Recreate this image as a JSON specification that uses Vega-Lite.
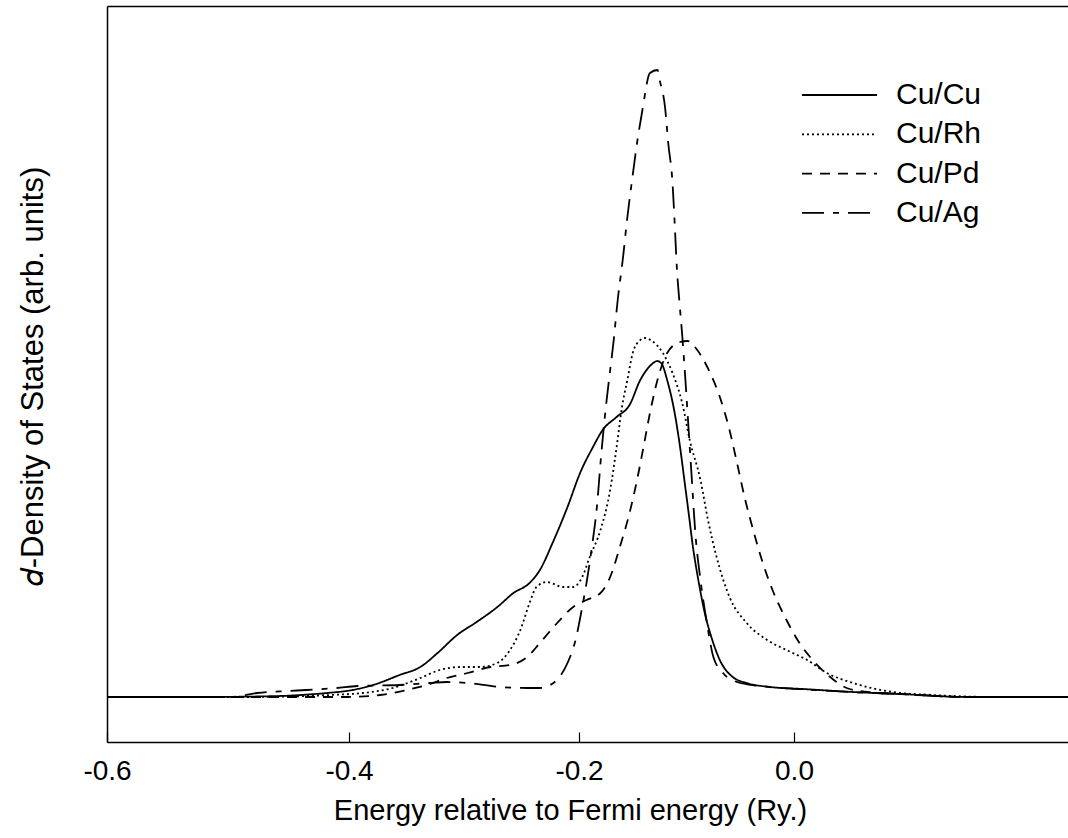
{
  "$schema": "https://vega.github.io/schema/vega-lite/v6.json",
  "width": 961,
  "height": 736,
  "autosize": {"type": "none"},
  "padding": {"left": 107, "top": 6, "right": 0, "bottom": 96},
  "background": "white",
  "config": {"view": {"stroke": null}, "font": "Liberation Sans"},
  "data": {"values": [
    {"s":"Cu/Cu","E":-0.6,"D":0},{"s":"Cu/Cu","E":-0.523,"D":0},{"s":"Cu/Cu","E":-0.457,"D":0.01},{"s":"Cu/Cu","E":-0.44,"D":0.02},{"s":"Cu/Cu","E":-0.418,"D":0.04},{"s":"Cu/Cu","E":-0.397,"D":0.07},{"s":"Cu/Cu","E":-0.379,"D":0.12},{"s":"Cu/Cu","E":-0.356,"D":0.22},{"s":"Cu/Cu","E":-0.338,"D":0.3},{"s":"Cu/Cu","E":-0.323,"D":0.44},{"s":"Cu/Cu","E":-0.306,"D":0.62},{"s":"Cu/Cu","E":-0.289,"D":0.75},{"s":"Cu/Cu","E":-0.271,"D":0.9},{"s":"Cu/Cu","E":-0.257,"D":1.04},{"s":"Cu/Cu","E":-0.243,"D":1.14},{"s":"Cu/Cu","E":-0.234,"D":1.27},{"s":"Cu/Cu","E":-0.223,"D":1.54},{"s":"Cu/Cu","E":-0.21,"D":1.9},{"s":"Cu/Cu","E":-0.199,"D":2.24},{"s":"Cu/Cu","E":-0.187,"D":2.5},{"s":"Cu/Cu","E":-0.178,"D":2.67},{"s":"Cu/Cu","E":-0.165,"D":2.8},{"s":"Cu/Cu","E":-0.153,"D":2.92},{"s":"Cu/Cu","E":-0.143,"D":3.17},{"s":"Cu/Cu","E":-0.134,"D":3.31},{"s":"Cu/Cu","E":-0.127,"D":3.36},{"s":"Cu/Cu","E":-0.123,"D":3.33},{"s":"Cu/Cu","E":-0.118,"D":3.17},{"s":"Cu/Cu","E":-0.111,"D":2.84},{"s":"Cu/Cu","E":-0.106,"D":2.5},{"s":"Cu/Cu","E":-0.102,"D":2.17},{"s":"Cu/Cu","E":-0.098,"D":1.84},{"s":"Cu/Cu","E":-0.094,"D":1.5},{"s":"Cu/Cu","E":-0.089,"D":1.17},{"s":"Cu/Cu","E":-0.083,"D":0.84},{"s":"Cu/Cu","E":-0.076,"D":0.57},{"s":"Cu/Cu","E":-0.069,"D":0.37},{"s":"Cu/Cu","E":-0.057,"D":0.2},{"s":"Cu/Cu","E":-0.044,"D":0.14},{"s":"Cu/Cu","E":-0.022,"D":0.1},{"s":"Cu/Cu","E":0.008,"D":0.08},{"s":"Cu/Cu","E":0.054,"D":0.05},{"s":"Cu/Cu","E":0.097,"D":0.03},{"s":"Cu/Cu","E":0.158,"D":0},{"s":"Cu/Cu","E":0.25,"D":0},
    {"s":"Cu/Rh","E":-0.6,"D":0},{"s":"Cu/Rh","E":-0.482,"D":0},{"s":"Cu/Rh","E":-0.416,"D":0.02},{"s":"Cu/Rh","E":-0.388,"D":0.04},{"s":"Cu/Rh","E":-0.362,"D":0.09},{"s":"Cu/Rh","E":-0.338,"D":0.19},{"s":"Cu/Rh","E":-0.321,"D":0.27},{"s":"Cu/Rh","E":-0.303,"D":0.3},{"s":"Cu/Rh","E":-0.286,"D":0.3},{"s":"Cu/Rh","E":-0.271,"D":0.34},{"s":"Cu/Rh","E":-0.26,"D":0.47},{"s":"Cu/Rh","E":-0.251,"D":0.67},{"s":"Cu/Rh","E":-0.243,"D":0.94},{"s":"Cu/Rh","E":-0.237,"D":1.1},{"s":"Cu/Rh","E":-0.228,"D":1.15},{"s":"Cu/Rh","E":-0.214,"D":1.1},{"s":"Cu/Rh","E":-0.205,"D":1.1},{"s":"Cu/Rh","E":-0.197,"D":1.2},{"s":"Cu/Rh","E":-0.19,"D":1.4},{"s":"Cu/Rh","E":-0.18,"D":1.67},{"s":"Cu/Rh","E":-0.171,"D":2.07},{"s":"Cu/Rh","E":-0.165,"D":2.5},{"s":"Cu/Rh","E":-0.16,"D":2.9},{"s":"Cu/Rh","E":-0.155,"D":3.17},{"s":"Cu/Rh","E":-0.15,"D":3.44},{"s":"Cu/Rh","E":-0.143,"D":3.57},{"s":"Cu/Rh","E":-0.139,"D":3.59},{"s":"Cu/Rh","E":-0.132,"D":3.56},{"s":"Cu/Rh","E":-0.122,"D":3.44},{"s":"Cu/Rh","E":-0.113,"D":3.24},{"s":"Cu/Rh","E":-0.104,"D":2.94},{"s":"Cu/Rh","E":-0.097,"D":2.57},{"s":"Cu/Rh","E":-0.087,"D":2.17},{"s":"Cu/Rh","E":-0.08,"D":1.77},{"s":"Cu/Rh","E":-0.072,"D":1.4},{"s":"Cu/Rh","E":-0.06,"D":1.0},{"s":"Cu/Rh","E":-0.044,"D":0.74},{"s":"Cu/Rh","E":-0.025,"D":0.57},{"s":"Cu/Rh","E":-0.007,"D":0.47},{"s":"Cu/Rh","E":0.012,"D":0.37},{"s":"Cu/Rh","E":0.03,"D":0.24},{"s":"Cu/Rh","E":0.054,"D":0.14},{"s":"Cu/Rh","E":0.09,"D":0.05},{"s":"Cu/Rh","E":0.127,"D":0.02},{"s":"Cu/Rh","E":0.188,"D":0},{"s":"Cu/Rh","E":0.25,"D":0},
    {"s":"Cu/Pd","E":-0.6,"D":0},{"s":"Cu/Pd","E":-0.402,"D":0},{"s":"Cu/Pd","E":-0.373,"D":0.02},{"s":"Cu/Pd","E":-0.35,"D":0.07},{"s":"Cu/Pd","E":-0.332,"D":0.12},{"s":"Cu/Pd","E":-0.315,"D":0.19},{"s":"Cu/Pd","E":-0.297,"D":0.24},{"s":"Cu/Pd","E":-0.277,"D":0.3},{"s":"Cu/Pd","E":-0.26,"D":0.32},{"s":"Cu/Pd","E":-0.245,"D":0.4},{"s":"Cu/Pd","E":-0.234,"D":0.54},{"s":"Cu/Pd","E":-0.219,"D":0.74},{"s":"Cu/Pd","E":-0.205,"D":0.9},{"s":"Cu/Pd","E":-0.193,"D":0.97},{"s":"Cu/Pd","E":-0.18,"D":1.04},{"s":"Cu/Pd","E":-0.171,"D":1.2},{"s":"Cu/Pd","E":-0.162,"D":1.5},{"s":"Cu/Pd","E":-0.153,"D":1.84},{"s":"Cu/Pd","E":-0.146,"D":2.17},{"s":"Cu/Pd","E":-0.14,"D":2.5},{"s":"Cu/Pd","E":-0.134,"D":2.84},{"s":"Cu/Pd","E":-0.127,"D":3.17},{"s":"Cu/Pd","E":-0.118,"D":3.44},{"s":"Cu/Pd","E":-0.106,"D":3.55},{"s":"Cu/Pd","E":-0.099,"D":3.56},{"s":"Cu/Pd","E":-0.09,"D":3.47},{"s":"Cu/Pd","E":-0.078,"D":3.24},{"s":"Cu/Pd","E":-0.069,"D":3.0},{"s":"Cu/Pd","E":-0.06,"D":2.67},{"s":"Cu/Pd","E":-0.053,"D":2.34},{"s":"Cu/Pd","E":-0.046,"D":2.0},{"s":"Cu/Pd","E":-0.038,"D":1.67},{"s":"Cu/Pd","E":-0.029,"D":1.34},{"s":"Cu/Pd","E":-0.02,"D":1.07},{"s":"Cu/Pd","E":-0.007,"D":0.77},{"s":"Cu/Pd","E":0.005,"D":0.54},{"s":"Cu/Pd","E":0.017,"D":0.37},{"s":"Cu/Pd","E":0.033,"D":0.2},{"s":"Cu/Pd","E":0.048,"D":0.09},{"s":"Cu/Pd","E":0.067,"D":0.05},{"s":"Cu/Pd","E":0.097,"D":0.03},{"s":"Cu/Pd","E":0.158,"D":0},{"s":"Cu/Pd","E":0.25,"D":0},
    {"s":"Cu/Ag","E":-0.6,"D":0},{"s":"Cu/Ag","E":-0.498,"D":0},{"s":"Cu/Ag","E":-0.476,"D":0.04},{"s":"Cu/Ag","E":-0.451,"D":0.06},{"s":"Cu/Ag","E":-0.435,"D":0.07},{"s":"Cu/Ag","E":-0.41,"D":0.09},{"s":"Cu/Ag","E":-0.393,"D":0.11},{"s":"Cu/Ag","E":-0.356,"D":0.12},{"s":"Cu/Ag","E":-0.33,"D":0.14},{"s":"Cu/Ag","E":-0.315,"D":0.15},{"s":"Cu/Ag","E":-0.297,"D":0.14},{"s":"Cu/Ag","E":-0.269,"D":0.1},{"s":"Cu/Ag","E":-0.245,"D":0.09},{"s":"Cu/Ag","E":-0.234,"D":0.09},{"s":"Cu/Ag","E":-0.225,"D":0.12},{"s":"Cu/Ag","E":-0.217,"D":0.2},{"s":"Cu/Ag","E":-0.21,"D":0.34},{"s":"Cu/Ag","E":-0.203,"D":0.57},{"s":"Cu/Ag","E":-0.197,"D":0.9},{"s":"Cu/Ag","E":-0.193,"D":1.14},{"s":"Cu/Ag","E":-0.188,"D":1.5},{"s":"Cu/Ag","E":-0.183,"D":1.94},{"s":"Cu/Ag","E":-0.18,"D":2.34},{"s":"Cu/Ag","E":-0.176,"D":2.8},{"s":"Cu/Ag","E":-0.171,"D":3.27},{"s":"Cu/Ag","E":-0.168,"D":3.54},{"s":"Cu/Ag","E":-0.164,"D":3.97},{"s":"Cu/Ag","E":-0.159,"D":4.4},{"s":"Cu/Ag","E":-0.155,"D":4.8},{"s":"Cu/Ag","E":-0.151,"D":5.14},{"s":"Cu/Ag","E":-0.146,"D":5.54},{"s":"Cu/Ag","E":-0.141,"D":5.87},{"s":"Cu/Ag","E":-0.134,"D":6.24},{"s":"Cu/Ag","E":-0.127,"D":6.27},{"s":"Cu/Ag","E":-0.125,"D":6.17},{"s":"Cu/Ag","E":-0.12,"D":5.9},{"s":"Cu/Ag","E":-0.117,"D":5.54},{"s":"Cu/Ag","E":-0.113,"D":5.14},{"s":"Cu/Ag","E":-0.111,"D":4.74},{"s":"Cu/Ag","E":-0.109,"D":4.3},{"s":"Cu/Ag","E":-0.1065,"D":3.94},{"s":"Cu/Ag","E":-0.104,"D":3.62},{"s":"Cu/Ag","E":-0.101,"D":3.17},{"s":"Cu/Ag","E":-0.098,"D":2.67},{"s":"Cu/Ag","E":-0.095,"D":2.17},{"s":"Cu/Ag","E":-0.092,"D":1.67},{"s":"Cu/Ag","E":-0.087,"D":1.17},{"s":"Cu/Ag","E":-0.081,"D":0.74},{"s":"Cu/Ag","E":-0.075,"D":0.4},{"s":"Cu/Ag","E":-0.066,"D":0.24},{"s":"Cu/Ag","E":-0.053,"D":0.15},{"s":"Cu/Ag","E":-0.032,"D":0.11},{"s":"Cu/Ag","E":0.005,"D":0.08},{"s":"Cu/Ag","E":0.051,"D":0.05},{"s":"Cu/Ag","E":0.097,"D":0.03},{"s":"Cu/Ag","E":0.158,"D":0},{"s":"Cu/Ag","E":0.25,"D":0}
  ]},
  "layer": [
    {
      "mark": {"type": "line", "color": "black", "strokeWidth": 1.8, "interpolate": "monotone"},
      "encoding": {
        "x": {
          "field": "E", "type": "quantitative",
          "scale": {"domain": [-0.6, -0.4, -0.2, 0, 0.25], "range": [0, 242, 472, 687, 961]},
          "axis": {
            "orient": "bottom", "values": [-0.6, -0.4, -0.2, 0], "format": ".1f",
            "labelExpr": "replace(datum.label, '\u2212', '-')", "labelFlush": false,
            "grid": false, "domainColor": "black", "domainWidth": 1.5,
            "tickColor": "black", "tickSize": -10, "tickWidth": 1.2,
            "labelPadding": 25, "labelFont": "Liberation Sans", "labelFontSize": 28, "labelColor": "black",
            "title": "Energy relative to Fermi energy (Ry.)",
            "titleFont": "Liberation Sans", "titleFontSize": 29, "titleFontWeight": "normal", "titleColor": "black",
            "titleX": 463, "titleY": 77, "titleAlign": "center", "titleBaseline": "alphabetic"
          }
        },
        "y": {
          "field": "D", "type": "quantitative",
          "scale": {"domain": [-0.45, 6.91], "nice": false, "zero": false},
          "axis": {
            "labels": false, "ticks": false, "grid": false,
            "domainColor": "black", "domainWidth": 1.5,
            "title": "𝑑-Density of States (arb. units)",
            "titleFont": "Liberation Sans", "titleFontSize": 31, "titleFontWeight": "normal", "titleColor": "black",
            "titleAngle": -90, "titleX": -65, "titleY": 370, "titleAlign": "center", "titleBaseline": "alphabetic"
          }
        },
        "strokeDash": {
          "field": "s", "type": "nominal",
          "scale": {"domain": ["Cu/Cu", "Cu/Rh", "Cu/Pd", "Cu/Ag"], "range": [[1, 0], [2, 3], [10, 8], [22, 9, 6, 9]]},
          "legend": {
            "orient": "none", "legendX": 694, "legendY": 74, "title": null,
            "symbolType": "stroke", "symbolSize": 5625, "symbolStrokeWidth": 1.8, "symbolStrokeColor": "black",
            "labelFont": "Liberation Sans", "labelFontSize": 30, "labelColor": "black", "labelOffset": 18,
            "clipHeight": 30, "rowPadding": 9.3, "padding": 0
          }
        }
      }
    },
    {
      "mark": {"type": "rule", "opacity": 0},
      "encoding": {
        "x": {
          "field": "E", "type": "quantitative",
          "scale": {"domain": [-0.6, -0.4, -0.2, 0, 0.25], "range": [0, 242, 472, 687, 961]},
          "axis": {"orient": "top", "labels": false, "ticks": false, "grid": false, "title": null, "domainColor": "black", "domainWidth": 1.5}
        }
      }
    }
  ],
  "resolve": {"axis": {"x": "independent"}}
}
